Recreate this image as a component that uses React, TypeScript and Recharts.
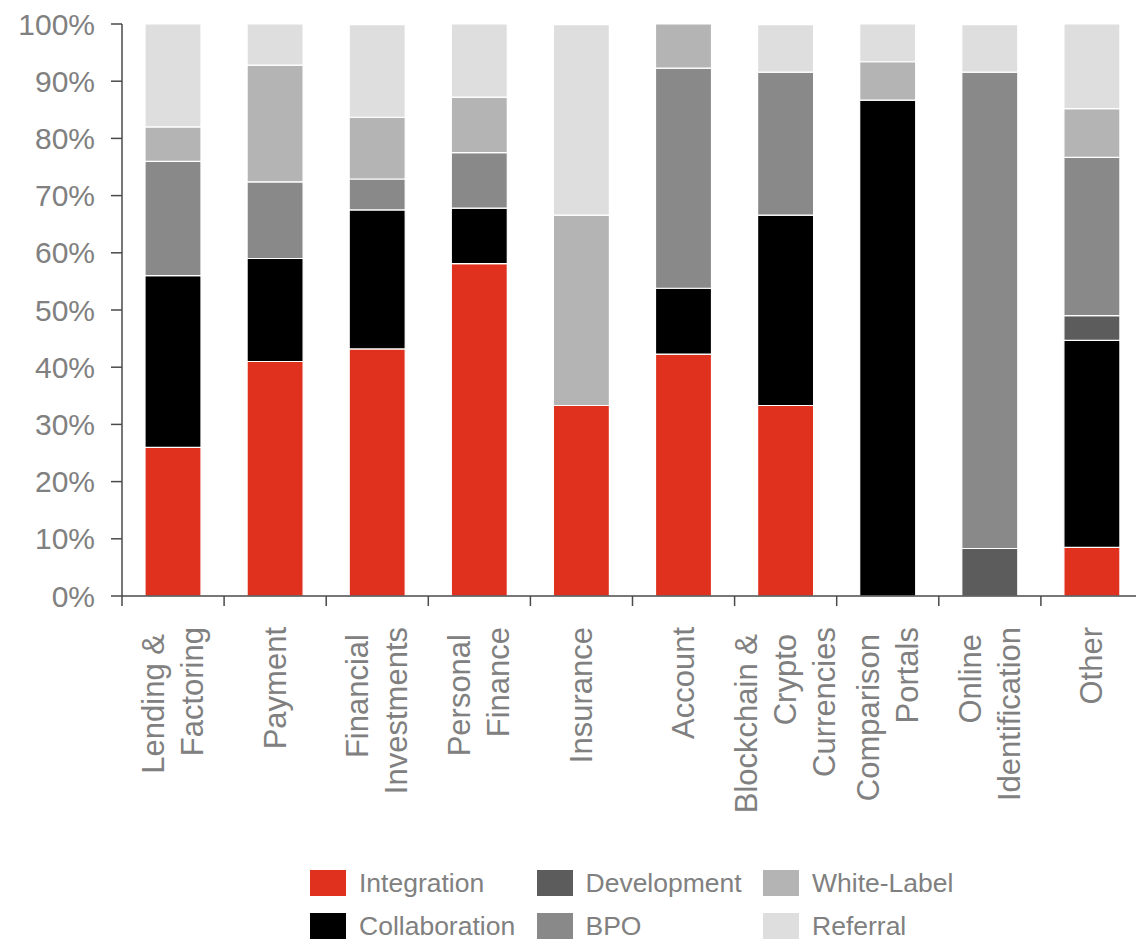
import { BarChart, Bar, XAxis, YAxis } from "recharts";

const categories = [
  "Lending &\nFactoring",
  "Payment",
  "Financial\nInvestments",
  "Personal\nFinance",
  "Insurance",
  "Account",
  "Blockchain &\nCrypto\nCurrencies",
  "Comparison\nPortals",
  "Online\nIdentification",
  "Other",
];

// share of each type per segment, in %
const integration = [26, 41, 43.2, 58.1, 33.3, 42.3, 33.3, 0, 0, 8.5];
const collaboration = [30, 18, 24.3, 9.7, 0, 11.5, 33.3, 86.7, 0, 36.2];
const development = [0, 0, 0, 0, 0, 0, 0, 0, 8.3, 4.3];
const bpo = [20, 13.4, 5.4, 9.7, 0, 38.5, 25, 0, 83.3, 27.7];
const whiteLabel = [6, 20.4, 10.8, 9.7, 33.3, 7.7, 0, 6.7, 0, 8.5];
const referral = [18, 7.2, 16.2, 12.8, 33.3, 0, 8.3, 6.6, 8.3, 14.8];

const yTicks = [0, 10, 20, 30, 40, 50, 60, 70, 80, 90, 100];

const series = [
  { key: "integration", name: "Integration", color: "#E0311F", values: integration },
  { key: "collaboration", name: "Collaboration", color: "#000000", values: collaboration },
  { key: "development", name: "Development", color: "#5C5C5C", values: development },
  { key: "bpo", name: "BPO", color: "#898989", values: bpo },
  { key: "whiteLabel", name: "White-Label", color: "#B4B4B4", values: whiteLabel },
  { key: "referral", name: "Referral", color: "#DEDEDE", values: referral },
];

// zero shares become null so no empty rect (with its white stroke) is drawn
const data = categories.map((c, i) => {
  const row: Record<string, any> = { name: c };
  series.forEach((s) => (row[s.key] = s.values[i] === 0 ? null : s.values[i]));
  return row;
});

const FONT = '"Liberation Sans", Arial, sans-serif';
const AXIS = "#4a4a4a";
const TEXT = "#808080";
const W = 1160;
const LEFT = 122;
const RIGHT = 17;
const BAND = (W - LEFT - RIGHT) / categories.length;

const XTick = (props: any) => {
  const { x, y, payload } = props;
  const lines = String(payload.value).split("\n");
  const n = lines.length;
  return (
    <g>
      <line x1={x - BAND / 2} y1={y} x2={x - BAND / 2} y2={y + 10} stroke={AXIS} strokeWidth={1.5} />
      <g transform={`translate(${x},${y}) rotate(-90)`}>
        {lines.map((l, i) => (
          <text
            key={i}
            x={i < n - 1 ? -38 : -31}
            y={(i - (n - 1) / 2) * 39 + 10.5}
            textAnchor="end"
            fill={TEXT}
            fontSize={31}
            fontFamily={FONT}
          >
            {l}
          </text>
        ))}
      </g>
    </g>
  );
};

const legendOrder = [
  [0, 1],
  [2, 3],
  [4, 5],
];

export default function App() {
  return (
    <div
      style={{
        position: "absolute",
        left: 0,
        top: 0,
        width: 1136,
        height: 939,
        overflow: "hidden",
        background: "#fff",
      }}
    >
      <BarChart
        width={W}
        height={939}
        data={data}
        margin={{ top: 24, right: RIGHT, left: 0, bottom: 0 }}
        barSize={56}
      >
        <XAxis
          dataKey="name"
          interval={0}
          height={343}
          tickLine={false}
          tickSize={0}
          tickMargin={0}
          axisLine={{ stroke: AXIS, strokeWidth: 1.5 }}
          tick={<XTick />}
        />
        <YAxis
          width={LEFT}
          domain={[0, 100]}
          allowDataOverflow
          ticks={yTicks}
          interval={0}
          tickFormatter={(v) => `${v}%`}
          tickSize={11}
          tickMargin={16}
          tickLine={{ stroke: AXIS, strokeWidth: 1.5 }}
          axisLine={{ stroke: AXIS, strokeWidth: 1.5 }}
          tick={{ fill: TEXT, fontSize: 30, fontFamily: FONT }}
        />
        {series.map((s) => (
          <Bar
            key={s.key}
            dataKey={s.key}
            name={s.name}
            stackId="a"
            fill={s.color}
            stroke="#ffffff"
            strokeWidth={1.2}
            isAnimationActive={false}
          />
        ))}
      </BarChart>
      {legendOrder.map((col, ci) =>
        col.map((si, ri) => (
          <div
            key={si}
            style={{
              position: "absolute",
              left: 310 + ci * 226.5,
              top: 870 + ri * 43,
              display: "flex",
              alignItems: "center",
              height: 26,
              lineHeight: "26px",
              fontFamily: FONT,
              fontSize: 26.5,
              color: TEXT,
              whiteSpace: "nowrap",
            }}
          >
            <span
              style={{
                display: "inline-block",
                width: 36,
                height: 26,
                background: series[si].color,
                marginRight: 13,
              }}
            />
            {series[si].name}
          </div>
        ))
      )}
    </div>
  );
}
